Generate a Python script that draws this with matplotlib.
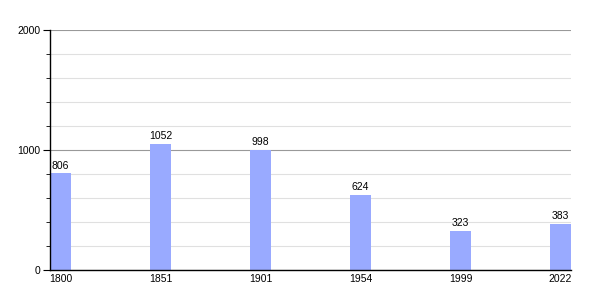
import numpy as np
import matplotlib
matplotlib.use("Agg")
import matplotlib.pyplot as plt
from matplotlib.ticker import MultipleLocator

years = ["1800", "1851", "1901", "1954", "1999", "2022"]
population = [806, 1052, 998, 624, 323, 383]

plt.rcParams['font.family'] = ['Liberation Sans', 'DejaVu Sans']

fig = plt.figure(figsize=(6, 3), dpi=100)
ax = fig.add_axes([50 / 600, 30 / 300, 521 / 600, 240 / 300])

x = np.arange(len(years))
w = 0.21
ax.bar(x, population, width=w, color="#99aaff", zorder=2)
for xi, v in zip(x, population):
    ax.annotate(str(v), (xi, v), xytext=(0, 2), textcoords="offset points",
                ha="center", va="bottom", fontsize=7.5, zorder=3)

ax.set_xlim(-w / 2, len(years) - 1 + w / 2)
ax.set_ylim(0, 2000)
ax.set_xticks(x)
ax.set_xticklabels(years)
ax.yaxis.set_major_locator(MultipleLocator(1000))
ax.yaxis.set_minor_locator(MultipleLocator(200))

ax.grid(axis="y", which="minor", color="#e0e0e0", linewidth=0.8, zorder=0)
ax.grid(axis="y", which="major", color="#999999", linewidth=0.8, zorder=0)

ax.tick_params(axis="x", length=0, labelsize=7.5, pad=3)
ax.tick_params(axis="y", which="major", length=5, labelsize=7.5, pad=2)
ax.tick_params(axis="y", which="minor", length=3)

for s in ["top", "right"]:
    ax.spines[s].set_visible(False)
ax.spines["left"].set_linewidth(1)
ax.spines["bottom"].set_linewidth(1)

fig.savefig("out.png", dpi=100)
